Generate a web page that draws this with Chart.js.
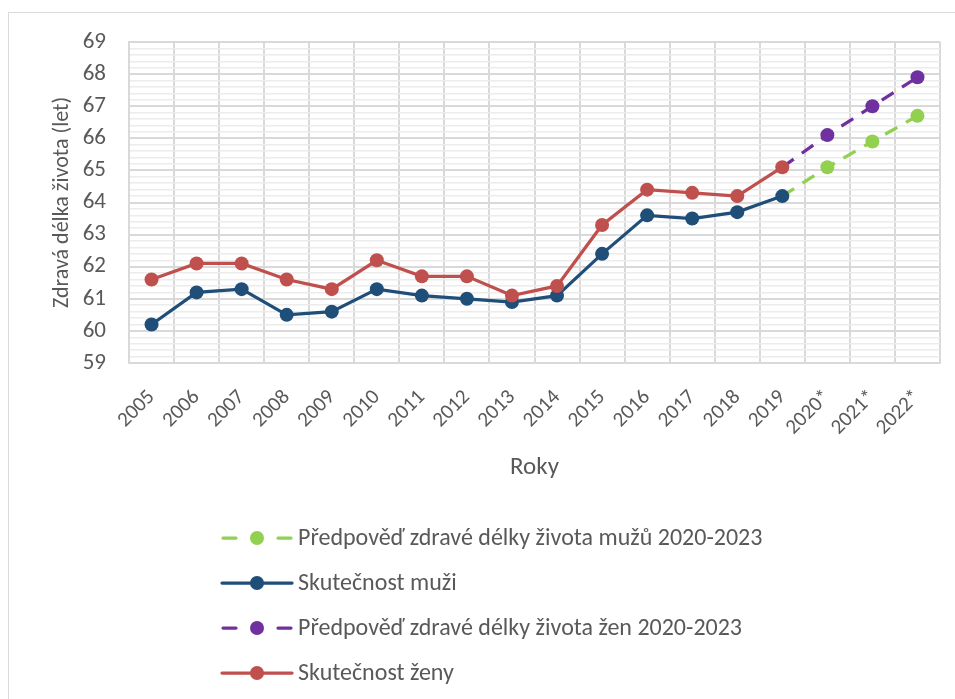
<!DOCTYPE html>
<html>
<head>
<meta charset="utf-8">
<script src="https://cdn.jsdelivr.net/npm/chart.js@4/dist/chart.umd.min.js"></script>
<style>
  html, body { margin: 0; padding: 0; background: #ffffff; }
  #wrap { width: 955px; height: 699px; position: relative; }
</style>
</head>
<body>
<div id="wrap"><canvas id="c"></canvas></div>
<script>
const categories = ['2005','2006','2007','2008','2009','2010','2011','2012','2013','2014','2015','2016','2017','2018','2019','2020*','2021*','2022*'];
const menActual = [60.2,61.2,61.3,60.5,60.6,61.3,61.1,61.0,60.9,61.1,62.4,63.6,63.5,63.7,64.2,null,null,null];
const womenActual = [61.6,62.1,62.1,61.6,61.3,62.2,61.7,61.7,61.1,61.4,63.3,64.4,64.3,64.2,65.1,null,null,null];
const menForecast = [null,null,null,null,null,null,null,null,null,null,null,null,null,null,64.2,65.1,65.9,66.7];
const womenForecast = [null,null,null,null,null,null,null,null,null,null,null,null,null,null,65.1,66.1,67.0,67.9];
const seriesNames = [
  'Předpověď zdravé délky života mužů 2020-2023',
  'Skutečnost muži',
  'Předpověď zdravé délky života žen 2020-2023',
  'Skutečnost ženy'
];
const yMin = 59, yMax = 69, yMinorStep = 0.2;
const yTitle = 'Zdravá délka života (let)';
const xTitle = 'Roky';

const FONT = 'Carlito, Lato, "Open Sans", sans-serif';
const TEXT = '#595959';
const C_GREEN = '#92D050', C_NAVY = '#1F4E79', C_PURPLE = '#7030A0', C_RED = '#C0504D';

const isMajor = v => Math.abs(v - Math.round(v)) < 1e-6;
const hideFirst = ctx => ctx.dataIndex === 14 ? 0 : 7;

const frame = {
  id: 'frame',
  beforeDraw(chart) {
    const ctx = chart.ctx;
    ctx.save();
    ctx.strokeStyle = '#d9d9d9';
    ctx.lineWidth = 1;
    ctx.strokeRect(8.5, 12.5, 1200, 1200);
    ctx.restore();
  }
};

const legendPlugin = {
  id: 'vlegend',
  afterDraw(chart) {
    const ctx = chart.ctx;
    ctx.save();
    chart.data.datasets.forEach((ds, i) => {
      const y = 538 + i * 45;
      const x0 = 222, x1 = 292, xm = 257;
      ctx.strokeStyle = ds.borderColor;
      ctx.lineWidth = 3.25;
      ctx.lineCap = 'round';
      ctx.beginPath();
      if (ds.borderDash && ds.borderDash.length) {
        ctx.moveTo(x0 + 1, y); ctx.lineTo(x0 + 14, y);
        ctx.moveTo(x1 - 14, y); ctx.lineTo(x1 - 1, y);
      } else {
        ctx.moveTo(x0, y); ctx.lineTo(x1, y);
      }
      ctx.stroke();
      ctx.fillStyle = ds.borderColor;
      ctx.beginPath();
      ctx.arc(xm, y, 7, 0, Math.PI * 2);
      ctx.fill();
      ctx.fillStyle = TEXT;
      ctx.font = '24px ' + FONT;
      ctx.textBaseline = 'middle';
      ctx.textAlign = 'left';
      ctx.fillText(seriesNames[i], 298, y + 1);
    });
    ctx.restore();
  }
};

new Chart(document.getElementById('c'), {
  type: 'line',
  data: {
    labels: categories,
    datasets: [
      { label: seriesNames[0], data: menForecast, borderColor: C_GREEN, backgroundColor: C_GREEN,
        borderDash: [14, 10], borderWidth: 3.25, pointRadius: hideFirst, pointHoverRadius: hideFirst,
        pointBackgroundColor: C_GREEN, pointBorderWidth: 0, order: 2 },
      { label: seriesNames[1], data: menActual, borderColor: C_NAVY, backgroundColor: C_NAVY,
        borderWidth: 3.25, pointRadius: 7, pointBackgroundColor: C_NAVY, pointBorderWidth: 0, order: 1 },
      { label: seriesNames[2], data: womenForecast, borderColor: C_PURPLE, backgroundColor: C_PURPLE,
        borderDash: [14, 10], borderWidth: 3.25, pointRadius: hideFirst, pointHoverRadius: hideFirst,
        pointBackgroundColor: C_PURPLE, pointBorderWidth: 0, order: 2 },
      { label: seriesNames[3], data: womenActual, borderColor: C_RED, backgroundColor: C_RED,
        borderWidth: 3.25, pointRadius: 7, pointBackgroundColor: C_RED, pointBorderWidth: 0, order: 0 }
    ]
  },
  options: {
    responsive: true,
    maintainAspectRatio: false,
    devicePixelRatio: 1,
    animation: false,
    spanGaps: false,
    layout: { padding: { left: 0, right: 15, top: 42, bottom: 214 } },
    plugins: { legend: { display: false }, tooltip: { enabled: false } },
    scales: {
      x: {
        type: 'category',
        offset: true,
        grid: { offset: true, color: '#d9d9d9', lineWidth: 2, drawTicks: true, tickLength: 17,
                tickColor: 'rgba(0,0,0,0)' },
        border: { display: true, color: '#d9d9d9', width: 2 },
        ticks: { color: TEXT, font: { family: FONT, size: 21 }, minRotation: 45, maxRotation: 45,
                 autoSkip: false, padding: 5 },
        title: { display: true, text: xTitle, color: TEXT, font: { family: FONT, size: 25 },
                 padding: { top: 0, bottom: 2 } },
        afterFit: s => { s.height = 122; }
      },
      y: {
        min: yMin, max: yMax,
        grid: {
          drawTicks: false,
          color: c => isMajor(c.tick.value) ? '#d9d9d9' : '#ececec',
          lineWidth: c => isMajor(c.tick.value) ? 2 : 1.5
        },
        border: { display: true, color: '#d9d9d9', width: 2 },
        ticks: {
          stepSize: yMinorStep, autoSkip: false, maxTicksLimit: 100,
          color: TEXT, font: { family: FONT, size: 23 }, padding: 23,
          callback: v => isMajor(v) ? String(Math.round(v)) : ''
        },
        title: { display: true, text: yTitle, color: TEXT, font: { family: FONT, size: 22 },
                 padding: { top: 49, bottom: 0 } },
        afterFit: s => { s.width = 129; }
      }
    }
  },
  plugins: [frame, legendPlugin]
});
</script>
</body>
</html>
